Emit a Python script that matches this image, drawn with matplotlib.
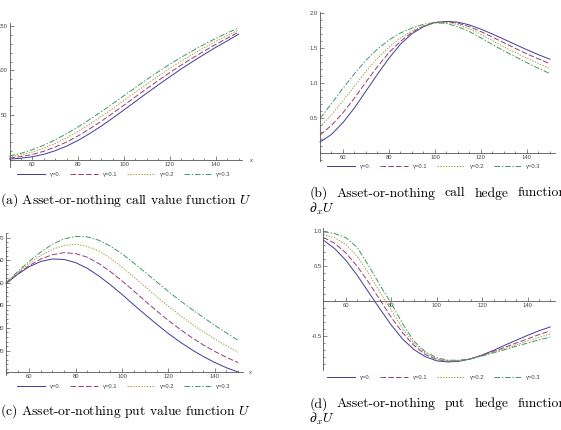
import matplotlib
matplotlib.use("Agg")
import matplotlib.pyplot as plt
from matplotlib.ticker import FixedLocator, MultipleLocator, FuncFormatter

plt.rcParams["mathtext.fontset"] = "cm"
plt.rcParams["lines.scale_dashes"] = False

# ---------------- data ----------------
x_vals = [50, 55, 60, 65, 70, 75, 80, 85, 90, 95, 100, 105, 110, 115, 120, 125, 130, 135, 140, 145, 150]
gamma_labels = ["γ=0.", "γ=0.1", "γ=0.2", "γ=0.3"]

a_g0 = [1.0, 2.0, 3.6, 6.4, 10.4, 15.6, 22.0, 29.5, 37.8, 46.7, 56.0, 65.4, 74.8, 84.0, 93.0, 101.8, 110.0, 118.0, 125.8, 133.0, 140.5]
a_g1 = [2.2, 3.8, 6.2, 9.8, 14.5, 20.2, 27.0, 34.8, 43.2, 52.1, 61.3, 70.6, 79.9, 88.9, 97.7, 106.1, 114.1, 121.7, 129.1, 136.0, 142.9]
a_g2 = [3.3, 5.7, 8.9, 13.2, 18.5, 24.9, 32.1, 40.0, 48.5, 57.4, 66.6, 75.8, 84.9, 93.8, 102.3, 110.5, 118.1, 125.5, 132.4, 138.9, 145.2]
a_g3 = [4.5, 7.5, 11.5, 16.6, 22.6, 29.5, 37.1, 45.3, 53.9, 62.8, 71.9, 81.0, 90.0, 98.7, 107.0, 114.8, 122.2, 129.2, 135.7, 141.9, 147.6]

b_g0 = [0.16, 0.27, 0.44, 0.65, 0.89, 1.13, 1.36, 1.56, 1.71, 1.81, 1.87, 1.885, 1.875, 1.835, 1.775, 1.705, 1.63, 1.555, 1.48, 1.41, 1.345]
b_g1 = [0.26, 0.40, 0.58, 0.79, 1.02, 1.24, 1.44, 1.60, 1.73, 1.82, 1.87, 1.88, 1.86, 1.81, 1.74, 1.66, 1.58, 1.50, 1.42, 1.35, 1.28]
b_g2 = [0.38, 0.55, 0.75, 0.96, 1.17, 1.36, 1.52, 1.65, 1.75, 1.82, 1.86, 1.87, 1.84, 1.78, 1.70, 1.61, 1.52, 1.44, 1.36, 1.285, 1.21]
b_g3 = [0.50, 0.71, 0.93, 1.14, 1.33, 1.49, 1.62, 1.72, 1.79, 1.845, 1.87, 1.855, 1.81, 1.74, 1.65, 1.555, 1.465, 1.38, 1.295, 1.215, 1.14]

c_g0 = [49.6, 53.7, 57.1, 59.4, 60.5, 60.3, 58.9, 56.4, 53.0, 49.1, 44.8, 40.3, 35.9, 31.6, 27.5, 23.8, 20.4, 17.4, 14.7, 12.4, 10.5]
c_g1 = [49.7, 54.0, 57.6, 60.5, 62.4, 63.3, 62.9, 61.3, 58.5, 54.9, 50.8, 46.4, 41.9, 37.5, 33.3, 29.4, 25.8, 22.5, 19.6, 17.0, 14.7]
c_g2 = [49.9, 54.5, 58.6, 62.1, 64.8, 66.5, 67.0, 66.1, 64.0, 60.8, 56.9, 52.6, 48.2, 43.8, 39.6, 35.6, 31.8, 28.3, 25.1, 22.1, 19.3]
c_g3 = [50.0, 54.9, 59.5, 63.6, 67.0, 69.4, 70.5, 70.3, 68.8, 66.2, 62.8, 58.8, 54.6, 50.3, 46.1, 42.1, 38.3, 34.7, 31.1, 27.8, 24.5]

d_g0 = [0.865, 0.745, 0.575, 0.36, 0.12, -0.12, -0.35, -0.55, -0.70, -0.80, -0.86, -0.875, -0.865, -0.83, -0.775, -0.71, -0.635, -0.565, -0.495, -0.43, -0.375]
d_g1 = [0.905, 0.82, 0.68, 0.49, 0.26, 0.01, -0.24, -0.46, -0.64, -0.77, -0.84, -0.865, -0.86, -0.83, -0.78, -0.725, -0.665, -0.605, -0.545, -0.485, -0.43]
d_g2 = [0.945, 0.90, 0.80, 0.63, 0.39, 0.12, -0.14, -0.40, -0.61, -0.75, -0.83, -0.86, -0.855, -0.83, -0.785, -0.735, -0.685, -0.63, -0.575, -0.525, -0.475]
d_g3 = [0.985, 0.96, 0.90, 0.76, 0.50, 0.22, -0.04, -0.33, -0.58, -0.73, -0.815, -0.85, -0.85, -0.83, -0.79, -0.745, -0.70, -0.65, -0.605, -0.56, -0.52]

x_major = [60, 80, 100, 120, 140]
a_yticks = [50, 100, 150]
b_yticks = [0.5, 1.0, 1.5, 2.0]
c_yticks = [20, 30, 40, 50, 60, 70]
d_yticks = [-0.5, 0.5, 1.0]

caption_a = "(a) Asset-or-nothing call value function $U$"
caption_c = "(c) Asset-or-nothing put value function $U$"
b_words = ["(b)", "Asset-or-nothing", "call", "hedge", "function"]
d_words = ["(d)", "Asset-or-nothing", "put", "hedge", "function"]
caption_tail = r"$\partial_x U$"

# ---------------- style ----------------
colors = ["#3d3d99", "#993d71", "#aa9c40", "#3d9966"]
dashes = [None, (4.0, 1.6), (1.0, 1.0), (4.0, 1.3, 1.0, 1.3)]
AX_COL = "#555555"
TXT_COL = "#444444"
TICK_FS = 4.2

W, H = 561, 430
fig = plt.figure(figsize=(W / 100, H / 100), dpi=100)


def add_ax(left, right, top, bottom):
    return fig.add_axes([left / W, 1 - bottom / H, (right - left) / W, (bottom - top) / H])


def setup(ax, series, xlim, ylim, origin, yticks, yminor, yfmt, leg_xy):
    lines = []
    for s, c, d, lab in zip(series, colors, dashes, gamma_labels):
        ln, = ax.plot(x_vals, s, color=c, lw=0.7, label=lab, clip_on=False)
        if d is not None:
            ln.set_dashes(d)
        lines.append(ln)
    ax.set_xlim(*xlim)
    ax.set_ylim(*ylim)
    for sp in ["top", "right"]:
        ax.spines[sp].set_visible(False)
    ax.spines["bottom"].set_position(("data", origin))
    for sp in ["left", "bottom"]:
        ax.spines[sp].set_color(AX_COL)
        ax.spines[sp].set_linewidth(0.6)
    ax.patch.set_alpha(0)
    ax.xaxis.set_major_locator(FixedLocator(x_major))
    ax.xaxis.set_minor_locator(MultipleLocator(5))
    ax.yaxis.set_major_locator(FixedLocator(yticks))
    ax.yaxis.set_minor_locator(MultipleLocator(yminor))
    ax.xaxis.set_major_formatter(FuncFormatter(lambda v, p: f"{v:.0f}"))
    ax.yaxis.set_major_formatter(FuncFormatter(lambda v, p: yfmt.format(v)))
    ax.tick_params(which="both", direction="in", color=AX_COL, width=0.5,
                   labelsize=TICK_FS, labelcolor=TXT_COL, pad=1.3)
    ax.tick_params(which="major", length=2.8)
    ax.tick_params(which="minor", length=1.6)
    for lab in ax.get_xticklabels() + ax.get_yticklabels():
        lab.set_family("Liberation Sans")
    leg = ax.legend(handles=lines, labels=gamma_labels, loc="center",
                    bbox_to_anchor=(leg_xy[0] / W, 1 - leg_xy[1] / H),
                    bbox_transform=fig.transFigure, ncol=4, frameon=False,
                    prop={"family": "Liberation Sans", "size": TICK_FS},
                    handlelength=4.7, handletextpad=0.9, columnspacing=1.6,
                    borderpad=0, borderaxespad=0)
    for t in leg.get_texts():
        t.set_color(TXT_COL)
    return ax


# (a)
axa = add_ax(9.5, 242, 23.3, 167)
setup(axa, [a_g0, a_g1, a_g2, a_g3], (50, 151.5), (-7.8, 152.7), 0,
      a_yticks, 10, "{:.0f}", (124, 174))
# (b)
axb = add_ax(320, 555, 12, 160.7)
setup(axb, [b_g0, b_g1, b_g2, b_g3], (50, 152.2), (-0.106, 2.02), 0,
      b_yticks, 0.1, "{:.1f}", (434, 166.7))
# (c)
axc = add_ax(6, 242.5, 233, 375)
setup(axc, [c_g0, c_g1, c_g2, c_g3], (50, 151.9), (9.2, 72.0), 10.5,
      c_yticks, 2, "{:.0f}", (124, 386.7))
# (d)
axd = add_ax(323.3, 555, 227.7, 370)
setup(axd, [d_g0, d_g1, d_g2, d_g3], (50, 152.1), (-0.99, 1.043), 0,
      d_yticks, 0.1, "{:.1f}", (434, 377.7))

# axis "x" labels
for (px, py) in [(249, 160.5), (248, 372.5)]:
    fig.text(px / W, 1 - py / H, "x", fontsize=TICK_FS, color=TXT_COL,
             family="Liberation Sans", style="italic", ha="left", va="center")

# captions
CAP_FS = 9.8
fig.text(0.5 / W, 1 - 204 / H, caption_a, fontsize=CAP_FS, family="cmr10",
         ha="left", va="baseline")
fig.text(0.5 / W, 1 - 415 / H, caption_c, fontsize=CAP_FS, family="cmr10",
         ha="left", va="baseline")

fig.canvas.draw()
renderer = fig.canvas.get_renderer()


def justified(words, left, right, base):
    objs = [fig.text(0, 1 - base / H, w, fontsize=CAP_FS, family="cmr10",
                     ha="left", va="baseline") for w in words]
    widths = [o.get_window_extent(renderer).width for o in objs]
    gap = (right - left - sum(widths)) / (len(words) - 1)
    pos = left
    for o, wd in zip(objs, widths):
        o.set_x(pos / W)
        pos += wd + gap


justified(b_words, 309.3, 566, 196.5)
fig.text(309.3 / W, 1 - 212.5 / H, caption_tail, fontsize=CAP_FS,
         ha="left", va="baseline")
justified(d_words, 309.3, 566, 407.3)
fig.text(309.3 / W, 1 - 423 / H, caption_tail, fontsize=CAP_FS,
         ha="left", va="baseline")

fig.savefig("out.png", dpi=100)
